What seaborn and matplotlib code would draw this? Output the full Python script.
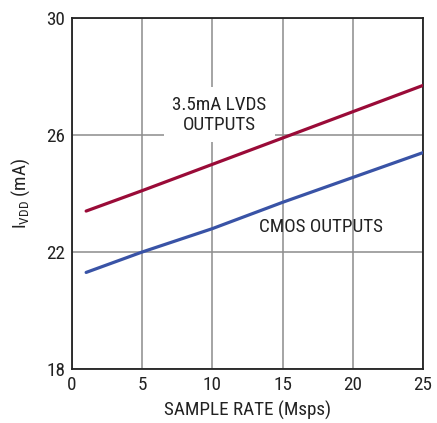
import numpy as np
import pandas as pd
import matplotlib
matplotlib.use("Agg")
import matplotlib.pyplot as plt
import seaborn as sns
from matplotlib import font_manager

sns.set_theme(style="white")

# fonts - narrow look if available
names = {f.name for f in font_manager.fontManager.ttflist}
fam = "Liberation Sans"
for cand in ["Liberation Sans Narrow", "Roboto Condensed", "Open Sans Condensed"]:
    if cand in names:
        fam = cand
        break
plt.rcParams['font.family'] = [fam, 'DejaVu Sans']
plt.rcParams['mathtext.fontset'] = 'custom'
plt.rcParams['mathtext.rm'] = fam

# data
sample_rate = [1, 5, 10, 15, 20, 25]
lvds_ma = [23.4, 24.1, 25.0, 25.9, 26.8, 27.7]
cmos_ma = [21.3, 22.0, 22.8, 23.7, 24.55, 25.4]

df = pd.DataFrame({
    "rate": sample_rate * 2,
    "idd": lvds_ma + cmos_ma,
    "mode": ["LVDS"] * len(sample_rate) + ["CMOS"] * len(sample_rate),
})

fs = 13.8

fig, ax = plt.subplots(figsize=(4.37, 4.23), dpi=100)
fig.subplots_adjust(left=0.165, right=0.968, top=0.957, bottom=0.128)

sns.lineplot(data=df, x="rate", y="idd", hue="mode",
             palette={"LVDS": "#9a0b38", "CMOS": "#3953a6"},
             linewidth=2.3, legend=False, ax=ax, zorder=3)

ax.set_xlim(0, 25)
ax.set_ylim(18, 30)
ax.set_xticks([0, 5, 10, 15, 20, 25])
ax.set_yticks([18, 22, 26, 30])
ax.grid(True, color="#8c8c8c", linewidth=1.1)
ax.set_axisbelow(True)
for s in ax.spines.values():
    s.set_color("#222222")
    s.set_linewidth(1.3)
ax.tick_params(length=0, labelsize=fs, colors="#222222", pad=5)
ax.set_xlabel("SAMPLE RATE (Msps)", fontsize=fs, color="#222222", labelpad=5)
ax.set_ylabel(r"$\mathregular{I_{VDD}}$ (mA)", fontsize=fs, color="#222222", labelpad=10)

ax.text(10.5, 26.7, "3.5mA LVDS\nOUTPUTS", ha="center", va="center",
        fontsize=fs, color="#222222", linespacing=1.15, zorder=2,
        bbox=dict(facecolor="white", edgecolor="none", pad=6))
ax.text(17.7, 22.85, "CMOS OUTPUTS", ha="center", va="center",
        fontsize=fs, color="#222222", zorder=2)

fig.savefig("out.png", dpi=100)
